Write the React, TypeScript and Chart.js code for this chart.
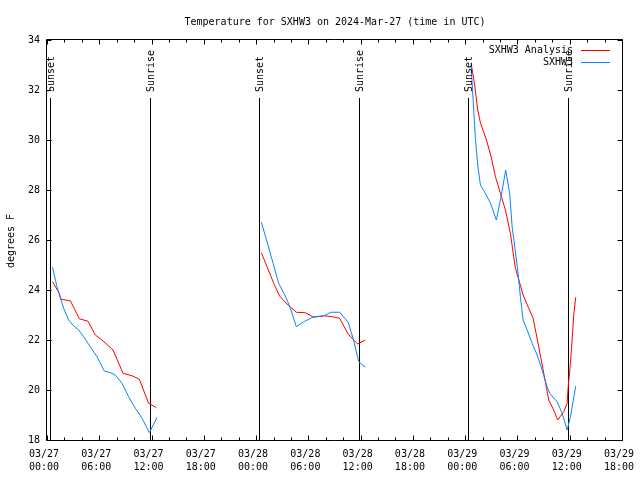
import { useEffect, useRef } from "react";
import { Chart, registerables } from "chart.js";

Chart.register(...registerables);

const TITLE = "Temperature for SXHW3 on 2024-Mar-27 (time in UTC)";
const Y_LABEL = "degrees F";
const DAY_LABELS = ["03/27", "03/28", "03/29"];
const X_MIN = 0;
const X_MAX = 66;
const X_STEP = 6;
const Y_MIN = 18;
const Y_MAX = 34;
const Y_STEP = 2;

// hours since 03/27 00:00 UTC; null temperature = gap between nights
const analysisHours = [
  0.64, 1.41, 1.61, 2.68, 3.71, 4.71, 5.55, 6.31, 7.58, 8.72, 9.76, 10.6, 11.66, 12.55,
  18,
  24.6, 25.26, 26.02, 26.7, 27.55, 28.62, 29.66, 30.61, 31.76, 32.79, 33.59, 34.56, 35.66, 36.54,
  42,
  48.68, 49.06, 49.44, 49.75, 50.44, 50.98, 51.47, 52.04, 52.62, 53.19, 53.57, 53.77, 54.14, 54.65,
  55.29, 55.8, 56.33, 56.95, 57.59, 58.16, 58.62, 59.31, 59.7, 59.82, 60.08, 60.27, 60.46, 60.69,
];
const analysisTemps = [
  24.33, 23.87, 23.63, 23.57, 22.85, 22.75, 22.2, 22.0, 21.6, 20.67, 20.57, 20.43, 19.47, 19.3,
  null,
  25.49, 24.93, 24.27, 23.76, 23.44, 23.11, 23.09, 22.91, 22.97, 22.93, 22.87, 22.24, 21.84, 22.0,
  null,
  33.07, 32.27, 31.2, 30.69, 30.0, 29.33, 28.53, 27.87, 27.2, 26.27, 25.33, 24.87, 24.43, 23.8,
  23.27, 22.87, 21.93, 20.8, 19.6, 19.2, 18.8, 19.13, 19.47, 20.13, 21.07, 22.0, 23.0, 23.71,
];

const obsHours = [
  0.64, 1.15, 1.61, 1.91, 2.48, 3.05, 3.63, 4.2, 4.97, 5.74, 6.58, 7.27, 7.84, 8.61, 9.37, 10.14,
  10.91, 11.75, 12.63,
  18,
  24.6, 25.26, 25.95, 26.59, 27.47, 27.93, 28.62, 29.46, 30.61, 31.69, 32.61, 33.59, 34.56, 35.13,
  35.78, 36.54,
  42,
  48.68, 48.91, 49.17, 49.44, 49.75, 50.32, 50.9, 51.58, 52.12, 52.65, 53.11, 53.39, 53.69, 54.03,
  54.34, 54.65, 55.11, 55.68, 56.26, 56.83, 57.4, 57.7, 58.55, 59.13, 59.7, 60.08, 60.69,
];
const obsTemps = [
  24.9, 24.13, 23.6, 23.27, 22.8, 22.57, 22.4, 22.13, 21.73, 21.33, 20.76, 20.69, 20.6, 20.27, 19.73,
  19.27, 18.87, 18.29, 18.91,
  null,
  26.71, 25.93, 25.07, 24.27, 23.67, 23.27, 22.53, 22.73, 22.93, 22.96, 23.11, 23.11, 22.71, 22.07,
  21.13, 20.91,
  null,
  33.0, 31.6, 30.07, 29.0, 28.2, 27.87, 27.47, 26.8, 27.73, 28.8, 27.87, 26.53, 25.73, 24.8,
  23.73, 22.8, 22.4, 21.87, 21.4, 20.8, 20.13, 19.87, 19.53, 19.07, 18.4, 18.93, 20.16,
];

const sunEventHours = [0.3, 11.85, 24.3, 35.8, 48.3, 59.77];
const sunEventNames = ["Sunset", "Sunrise", "Sunset", "Sunrise", "Sunset", "Sunrise"];

const seriesNames = ["SXHW3 Analysis", "SXHW3"];
const seriesColors = ["#ff0000", "#0a84ff"];

const FONT_FAMILY = '"DejaVu Sans Mono", monospace';

function toPoints(hours: number[], temps: (number | null)[]) {
  return hours.map((h, i) => ({ x: h, y: temps[i] }));
}

const gnuplotFrame = {
  id: "gnuplotFrame",
  beforeDraw(chart: any) {
    const ctx = chart.ctx;
    ctx.save();
    ctx.fillStyle = "#ffffff";
    ctx.fillRect(0, 0, chart.width, chart.height);
    ctx.restore();
  },
  beforeDatasetsDraw(chart: any) {
    const ctx = chart.ctx;
    const { bottom } = chart.chartArea;
    const xs = chart.scales.x;
    ctx.save();
    ctx.strokeStyle = "#000";
    ctx.lineWidth = 1;
    sunEventHours.forEach((h) => {
      const x = Math.round(xs.getPixelForValue(h)) + 0.5;
      ctx.beginPath();
      ctx.moveTo(x, 98);
      ctx.lineTo(x, bottom);
      ctx.stroke();
    });
    ctx.restore();
  },
  afterDatasetsDraw(chart: any) {
    const ctx = chart.ctx;
    const { left, right, top, bottom } = chart.chartArea;
    const xs = chart.scales.x;
    const ys = chart.scales.y;
    const L = left - 0.5;
    const R = right + 0.5;
    const T = top - 0.5;
    const B = bottom + 0.5;
    ctx.save();
    ctx.strokeStyle = "#000";
    ctx.lineWidth = 1;
    ctx.beginPath();
    ctx.rect(L, T, R - L, B - T);
    // x ticks (inside, mirrored)
    for (let h = X_MIN; h <= X_MAX; h += 2) {
      const x = Math.round(xs.getPixelForValue(h)) + 0.5;
      const len = h % X_STEP === 0 ? 5 : 3;
      ctx.moveTo(x, B);
      ctx.lineTo(x, B - len);
      ctx.moveTo(x, T);
      ctx.lineTo(x, T + len);
    }
    for (let v = Y_MIN; v <= Y_MAX; v += Y_STEP) {
      const y = Math.round(ys.getPixelForValue(v)) + 0.5;
      ctx.moveTo(L, y);
      ctx.lineTo(L + 5, y);
      ctx.moveTo(R, y);
      ctx.lineTo(R - 5, y);
    }
    ctx.stroke();

    ctx.fillStyle = "#000";
    ctx.font = "10px " + FONT_FAMILY;
    // sun event labels
    sunEventHours.forEach((h, i) => {
      const x = Math.round(xs.getPixelForValue(h)) + 0.5;
      ctx.save();
      ctx.translate(x + 0.5, 92);
      ctx.rotate(-Math.PI / 2);
      ctx.textAlign = "left";
      ctx.textBaseline = "middle";
      ctx.fillText(sunEventNames[i], 0, 0);
      ctx.restore();
    });

    // legend
    const legendY = [50, 62.5];
    seriesNames.forEach((name, i) => {
      ctx.textAlign = "right";
      ctx.textBaseline = "middle";
      ctx.fillStyle = "#000";
      ctx.fillText(name, 573, legendY[i]);
      ctx.strokeStyle = seriesColors[i];
      ctx.beginPath();
      ctx.moveTo(581, Math.floor(legendY[i]) + 0.5);
      ctx.lineTo(610, Math.floor(legendY[i]) + 0.5);
      ctx.stroke();
    });

    // title
    ctx.fillStyle = "#000";
    ctx.textAlign = "center";
    ctx.textBaseline = "alphabetic";
    ctx.fillText(TITLE, 335, 25);

    // y axis label
    ctx.save();
    ctx.translate(11, 241);
    ctx.rotate(-Math.PI / 2);
    ctx.textAlign = "center";
    ctx.textBaseline = "middle";
    ctx.fillText(Y_LABEL, 0, 0);
    ctx.restore();

    ctx.restore();
  },
};

export default function App() {
  const canvasRef = useRef<HTMLCanvasElement | null>(null);

  useEffect(() => {
    document.body.style.margin = "0";
    const canvas = canvasRef.current;
    if (!canvas) return;
    const chart = new Chart(canvas, {
      type: "line",
      data: {
        datasets: [
          {
            label: seriesNames[0],
            data: toPoints(analysisHours, analysisTemps) as any,
            borderColor: seriesColors[0],
            backgroundColor: seriesColors[0],
            borderWidth: 1,
            pointRadius: 0,
            tension: 0,
            spanGaps: false,
            fill: false,
            order: 1,
          },
          {
            label: seriesNames[1],
            data: toPoints(obsHours, obsTemps) as any,
            borderColor: seriesColors[1],
            backgroundColor: seriesColors[1],
            borderWidth: 1,
            pointRadius: 0,
            tension: 0,
            spanGaps: false,
            fill: false,
            order: 0,
          },
        ],
      },
      options: {
        animation: false,
        responsive: false,
        devicePixelRatio: 1,
        events: [],
        layout: { padding: { top: 40, right: 18, left: 0, bottom: 0 } },
        plugins: {
          legend: { display: false },
          title: { display: false },
          tooltip: { enabled: false },
        },
        scales: {
          x: {
            type: "linear",
            min: X_MIN,
            max: X_MAX,
            grid: { display: false, drawTicks: false },
            border: { display: false },
            ticks: {
              stepSize: X_STEP,
              autoSkip: false,
              maxRotation: 0,
              color: "#000",
              padding: 8,
              labelOffset: -3,
              font: { family: FONT_FAMILY, size: 10, lineHeight: 1.3 },
              callback: (v: any) => {
                const n = Number(v);
                const day = Math.floor(n / 24);
                const hr = n % 24;
                return [DAY_LABELS[Math.min(day, DAY_LABELS.length - 1)], String(hr).padStart(2, "0") + ":00"];
              },
            },
            afterFit: (s: any) => {
              s.height = 40;
              s.paddingLeft = 0;
              s.paddingRight = 0;
            },
          },
          y: {
            type: "linear",
            min: Y_MIN,
            max: Y_MAX,
            grid: { display: false, drawTicks: false },
            border: { display: false },
            ticks: {
              stepSize: Y_STEP,
              color: "#000",
              padding: 7,
              font: { family: FONT_FAMILY, size: 10 },
            },
            afterFit: (s: any) => {
              s.width = 47;
              s.paddingTop = 0;
              s.paddingBottom = 0;
            },
          },
        },
      },
      plugins: [gnuplotFrame],
    });
    return () => chart.destroy();
  }, []);

  return (
    <div style={{ width: 640, height: 480 }}>
      <canvas ref={canvasRef} width={640} height={480} style={{ display: "block" }} />
    </div>
  );
}
